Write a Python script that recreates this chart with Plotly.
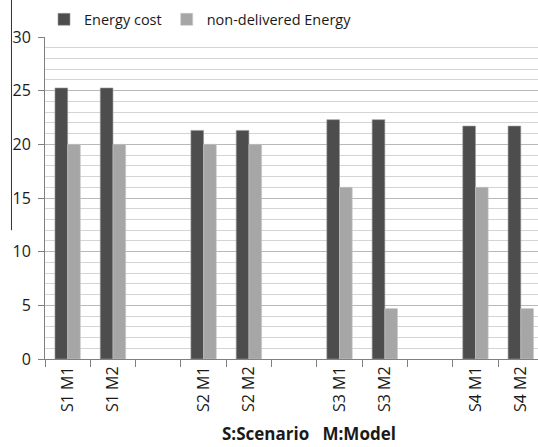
import plotly.graph_objects as go

# Scenario/model categories, with blank slots separating the scenarios
categories = ["S1 M1", "S1 M2", " ", "S2 M1", "S2 M2", "  ",
              "S3 M1", "S3 M2", "   ", "S4 M1", "S4 M2"]
energy_cost = [25.25, 25.25, None, 21.3, 21.3, None, 22.3, 22.3, None, 21.7, 21.7]
non_delivered = [20.0, 20.0, None, 20.0, 20.0, None, 16.0, 4.7, None, 16.0, 4.7]

font = "Open Sans, DejaVu Sans, sans-serif"

fig = go.Figure()
fig.add_trace(go.Bar(
    x=categories, y=energy_cost, name="Energy cost",
    marker=dict(color="#4d4d4d", line=dict(color="#9a9a9a", width=0.6)),
))
fig.add_trace(go.Bar(
    x=categories, y=non_delivered, name="non-delivered Energy",
    marker=dict(color="#a6a6a6", line=dict(color="#c8c8c8", width=0.6)),
))

fig.update_layout(
    width=538, height=447,
    margin=dict(l=45, r=0, t=37, b=88),
    paper_bgcolor="white", plot_bgcolor="white",
    barmode="group", bargap=0.44, bargroupgap=0,
    font=dict(family=font, size=15, color="#1a1a1a"),
    showlegend=True,
    legend=dict(orientation="h", x=-0.002, y=1.005, xanchor="left", yanchor="bottom",
                font=dict(size=14.5), itemwidth=30, tracegroupgap=0,
                bgcolor="rgba(0,0,0,0)"),
    xaxis=dict(
        type="category", categoryorder="array", categoryarray=categories,
        range=[-0.5, 10.38],
        tickangle=-90, ticks="outside", tickson="boundaries", ticklen=7,
        tickcolor="#808080", showline=True, linecolor="#808080", linewidth=1,
        showgrid=False, tickfont=dict(size=16),
    ),
    yaxis=dict(
        range=[0, 30], dtick=5, ticks="outside", ticklen=6, tickcolor="#808080",
        showline=True, linecolor="#808080", linewidth=1,
        showgrid=True, gridcolor="#b8b8b8", gridwidth=1,
        minor=dict(dtick=1, showgrid=True, gridcolor="#d4d4d4", gridwidth=1),
        tickfont=dict(size=16), zeroline=False, ticklabelstandoff=4,
    ),
)

# Axis caption under the category labels
fig.add_annotation(text="<b>S:Scenario   M:Model</b>", xref="paper", yref="paper",
                   x=0.535, y=-0.232, xanchor="center", yanchor="middle",
                   showarrow=False, font=dict(size=17, color="#1a1a1a"))

# Thin vertical rule at the left edge of the figure
fig.add_shape(type="line", xref="paper", yref="paper",
              x0=-0.068, x1=-0.068, y0=0.40, y1=1.12,
              line=dict(color="#333333", width=1))

fig.write_html("out.html")
